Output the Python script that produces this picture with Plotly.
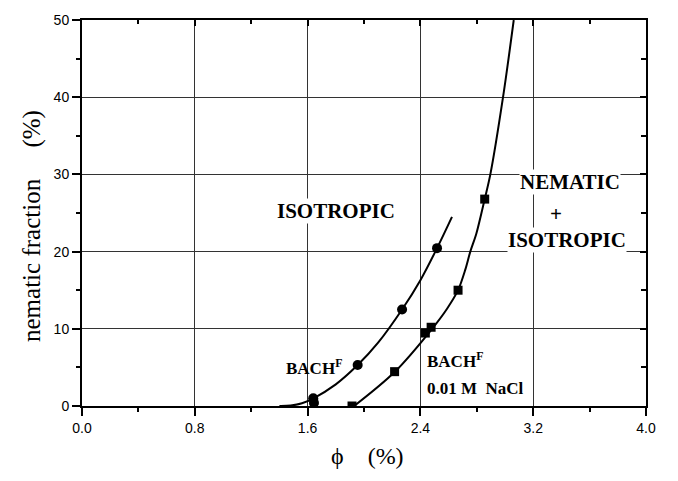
import plotly.graph_objects as go

# ---- data ----
circle_x = [1.640, 1.645, 1.955, 2.270, 2.518]
circle_y = [1.0, 0.4, 5.3, 12.5, 20.45]

square_x = [1.915, 2.217, 2.435, 2.476, 2.667, 2.856]
square_y = [0.0, 4.45, 9.45, 10.2, 15.0, 26.8]

curve1_x = [1.40, 1.48, 1.56, 1.642, 1.80, 1.955, 2.10, 2.27, 2.40, 2.518, 2.624]
curve1_y = [0.0, 0.05, 0.35, 1.0, 2.8, 5.3, 8.2, 12.5, 16.3, 20.45, 24.5]

curve2_x = [1.93, 2.217, 2.483, 2.589, 2.667, 2.719, 2.754, 2.797, 2.856, 2.896, 2.986, 3.062]
curve2_y = [0.0, 4.4, 10.0, 12.6, 15.0, 17.7, 20.0, 22.35, 26.8, 30.0, 40.0, 50.0]

x_ticks = [0.0, 0.8, 1.6, 2.4, 3.2, 4.0]
x_ticklabels = ["0.0", "0.8", "1.6", "2.4", "3.2", "4.0"]
y_ticks = [0, 10, 20, 30, 40, 50]
y_ticklabels = ["0", "10", "20", "30", "40", "50"]

X_RANGE = [0.0, 4.0]
Y_RANGE = [0, 50]

SERIF = "Liberation Serif, Times New Roman, serif"
SANS = "Liberation Sans, Arial, sans-serif"

fig = go.Figure()

fig.add_trace(go.Scatter(x=curve1_x, y=curve1_y, mode="lines",
                         line=dict(color="black", width=2, shape="spline", smoothing=1),
                         showlegend=False, hoverinfo="skip"))
fig.add_trace(go.Scatter(x=curve2_x, y=curve2_y, mode="lines",
                         line=dict(color="black", width=2, shape="spline", smoothing=0.9),
                         showlegend=False, hoverinfo="skip"))
fig.add_trace(go.Scatter(x=circle_x, y=circle_y, mode="markers",
                         marker=dict(symbol="circle", size=10, color="black"),
                         showlegend=False))
fig.add_trace(go.Scatter(x=square_x, y=square_y, mode="markers",
                         marker=dict(symbol="square", size=9, color="black"),
                         showlegend=False))
# dummy trace for mirrored inside-tick axes
fig.add_trace(go.Scatter(x=[None], y=[None], xaxis="x2", yaxis="y2",
                         mode="markers", showlegend=False, hoverinfo="skip"))

common_axis = dict(showline=True, linecolor="black", linewidth=2,
                   zeroline=False, tickcolor="black", tickwidth=1.5)

fig.update_layout(
    width=678, height=481,
    margin=dict(l=82, r=32, t=13, b=75),
    paper_bgcolor="white", plot_bgcolor="white",
    xaxis=dict(range=X_RANGE, tickvals=x_ticks, ticktext=x_ticklabels,
               ticks="outside", ticklen=8, ticklabeloverflow="allow",
               minor=dict(dtick=0.4, tick0=0, ticks="outside", ticklen=4,
                          tickcolor="black", tickwidth=1.5, showgrid=False),
               showgrid=True, gridcolor="#333", gridwidth=1,
               tickfont=dict(family=SANS, size=14, color="black"),
               **common_axis),
    yaxis=dict(range=Y_RANGE, tickvals=y_ticks, ticktext=y_ticklabels,
               ticks="outside", ticklen=8, ticklabeloverflow="allow",
               minor=dict(dtick=5, tick0=0, ticks="outside", ticklen=4,
                          tickcolor="black", tickwidth=1.5, showgrid=False),
               showgrid=True, gridcolor="#333", gridwidth=1,
               tickfont=dict(family=SANS, size=14, color="black"),
               **common_axis),
    xaxis2=dict(range=X_RANGE, overlaying="x", side="top", anchor="y2",
                tickvals=x_ticks, showticklabels=False, ticks="inside", ticklen=6,
                minor=dict(dtick=0.4, tick0=0, ticks="inside", ticklen=4,
                           tickcolor="black", tickwidth=1.5, showgrid=False),
                showgrid=False, **common_axis),
    yaxis2=dict(range=Y_RANGE, overlaying="y", side="right", anchor="x2",
                tickvals=y_ticks, showticklabels=False, ticks="inside", ticklen=6,
                minor=dict(dtick=5, tick0=0, ticks="inside", ticklen=5,
                           tickcolor="black", tickwidth=1.5, showgrid=False),
                showgrid=False, **common_axis),
)

big = dict(family=SERIF, size=21, color="black")
small = dict(family=SERIF, size=17, color="black")

ann = [
    dict(x=1.80, y=25.3, text="<b>ISOTROPIC</b>", font=big, bgcolor="white"),
    dict(x=3.459, y=29.0, text="<b>NEMATIC</b>", font=big, bgcolor="white"),
    dict(x=3.365, y=24.9, text="<b>+</b>", font=big, bgcolor="white"),
    dict(x=3.443, y=21.45, text="<b>ISOTROPIC</b>", font=big, bgcolor="white"),
    dict(x=1.441, y=5.0, text="<b>BACH<sup>F</sup></b>", font=small, xanchor="left"),
    dict(x=2.442, y=6.0, text="<b>BACH<sup>F</sup></b>", font=small, xanchor="left"),
    dict(x=2.44, y=2.25, text="<b>0.01 M\u00a0\u00a0NaCl</b>", font=small, xanchor="left"),
]
for a in ann:
    a.setdefault("xanchor", "center")
    fig.add_annotation(xref="x", yref="y", showarrow=False, borderpad=0,
                       yanchor="middle", **a)

fig.add_annotation(xref="paper", yref="paper", x=0.506, y=-0.130,
                   xanchor="center", yanchor="middle",
                   text="\u03d5\u00a0\u00a0\u00a0\u00a0(%)", showarrow=False,
                   font=dict(family=SERIF, size=24, color="black"))
fig.add_annotation(xref="paper", yref="paper", x=-0.09, y=0.467,
                   xanchor="center", yanchor="middle",
                   text="nematic fraction\u00a0\u00a0\u00a0\u00a0\u00a0(%)", showarrow=False,
                   textangle=-90,
                   font=dict(family=SERIF, size=25, color="black"))

fig.write_html("out.html", config={"displayModeBar": False},
               post_script="document.body.style.margin='0px';")
